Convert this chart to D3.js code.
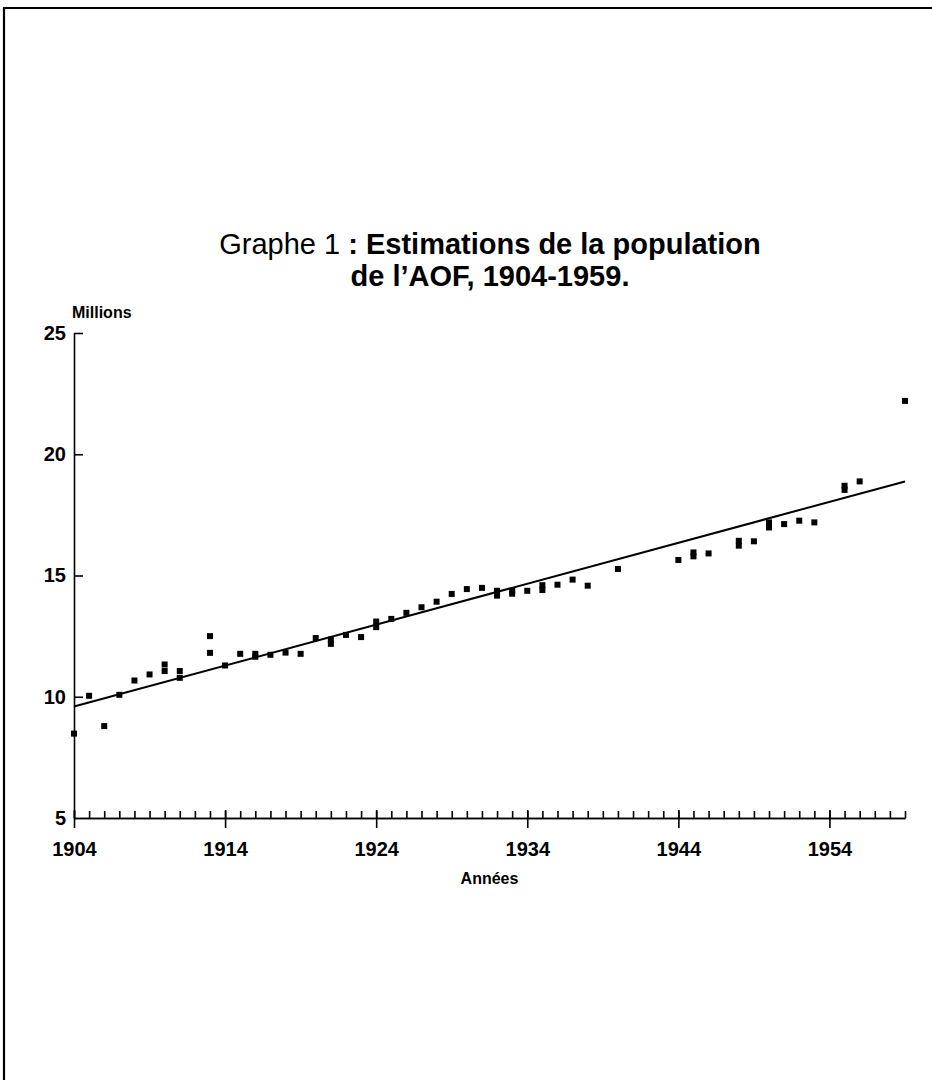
<!DOCTYPE html>
<html>
<head>
<meta charset="utf-8">
<script src="https://cdn.jsdelivr.net/npm/d3@7"></script>
<style>
  body { margin: 0; background: #fff; }
  svg { display: block; font-family: "Liberation Sans", Arial, sans-serif; }
  .axis path, .axis line { stroke: #000; stroke-width: 1.6; }
  .axis text { font-size: 20px; font-weight: bold; fill: #000; }
</style>
</head>
<body>
<div id="chart"></div>
<script>
// population estimates (millions), several years have two estimates
var years = [1904, 1905, 1906, 1907, 1908, 1909, 1910, 1910, 1911, 1911,
  1913, 1913, 1914, 1915, 1916, 1916, 1917, 1918, 1919, 1920,
  1921, 1921, 1922, 1923, 1924, 1924, 1925, 1926, 1927, 1928,
  1929, 1930, 1931, 1932, 1932, 1933, 1933, 1934, 1935, 1935,
  1936, 1937, 1938, 1940, 1944, 1945, 1945, 1946, 1948, 1948,
  1949, 1950, 1950, 1951, 1952, 1953, 1955, 1955, 1956, 1959];
var values = [8.48, 10.04, 8.79, 10.08, 10.67, 10.92, 11.33, 11.06, 11.06, 10.78,
  12.5, 11.81, 11.29, 11.77, 11.77, 11.65, 11.73, 11.82, 11.77, 12.42,
  12.36, 12.18, 12.55, 12.46, 13.1, 12.87, 13.21, 13.46, 13.69, 13.92,
  14.24, 14.44, 14.49, 14.37, 14.17, 14.37, 14.25, 14.37, 14.6, 14.4,
  14.62, 14.83, 14.58, 15.27, 15.64, 15.95, 15.79, 15.91, 16.43, 16.23,
  16.41, 17.19, 16.98, 17.12, 17.26, 17.19, 18.7, 18.53, 18.88, 22.2];

// fitted trend line
var trendYears = [1904, 1959];
var trendValues = [9.6, 18.88];

var majorYears = [1904, 1914, 1924, 1934, 1944, 1954];
var yTicks = [5, 10, 15, 20, 25];

var width = 932,
  height = 1080;

var svg = d3.select("#chart").append("svg")
  .attr("width", width)
  .attr("height", height);

// page frame (top and left edges only)
svg.append("path")
  .attr("d", "M4,1080 V8 H932")
  .attr("fill", "none")
  .attr("stroke", "#000")
  .attr("stroke-width", 2.2);

var x = d3.scaleLinear().domain([1904, 1959]).range([74, 905]);
var y = d3.scaleLinear().domain([5, 25]).range([818, 333]);

//TITLE
var title = svg.append("text")
  .attr("text-anchor", "middle")
  .attr("font-size", 29)
  .attr("x", 490)
  .attr("y", 254);
title.append("tspan").text("Graphe 1 ");
title.append("tspan").attr("font-weight", "bold").text(": Estimations de la population");

svg.append("text")
  .attr("text-anchor", "middle")
  .attr("font-size", 29)
  .attr("font-weight", "bold")
  .attr("x", 490)
  .attr("y", 286)
  .text("de l\u2019AOF, 1904-1959.");

//AXES
var allYears = d3.range(1904, 1960);

// small ticks every year, pointing up into the plot
svg.append("g")
  .attr("class", "axis")
  .attr("transform", "translate(0," + y(5) + ")")
  .call(d3.axisTop(x).tickValues(allYears).tickSize(7).tickSizeOuter(0).tickFormat(""));

// decade ticks crossing below, with labels
svg.append("g")
  .attr("class", "axis")
  .attr("transform", "translate(0," + y(5) + ")")
  .call(d3.axisBottom(x).tickValues(majorYears).tickSizeInner(10).tickSizeOuter(0)
    .tickPadding(14).tickFormat(d3.format("d")))
  .call(function(g) { g.selectAll(".tick line").attr("y1", -8); });

svg.append("g")
  .attr("class", "axis")
  .attr("transform", "translate(" + x(1904) + ",0)")
  .call(d3.axisLeft(y).tickValues(yTicks).tickSizeInner(-9).tickSizeOuter(0).tickPadding(8))
  .call(function(g) {
    g.selectAll(".tick").filter(function(d) { return d === 5; }).select("line").remove();
    g.selectAll("text").attr("font-size", 21);
  });

svg.append("text")
  .attr("x", 72)
  .attr("y", 318)
  .attr("font-size", 16)
  .attr("font-weight", "bold")
  .text("Millions");

svg.append("text")
  .attr("x", (x(1904) + x(1959)) / 2)
  .attr("y", 884)
  .attr("text-anchor", "middle")
  .attr("font-size", 16)
  .attr("font-weight", "bold")
  .text("Ann\u00e9es");

//TREND LINE
var line = d3.line()
  .x(function(d, i) { return x(trendYears[i]); })
  .y(function(d) { return y(d); });

svg.append("path")
  .datum(trendValues)
  .attr("d", line)
  .attr("fill", "none")
  .attr("stroke", "#000")
  .attr("stroke-width", 2);

//POINTS
svg.append("g")
  .selectAll("rect")
  .data(values)
  .enter().append("rect")
  .attr("x", function(d, i) { return x(years[i]) - 3; })
  .attr("y", function(d) { return y(d) - 3; })
  .attr("width", 6)
  .attr("height", 6)
  .attr("fill", "#000");
</script>
</body>
</html>
